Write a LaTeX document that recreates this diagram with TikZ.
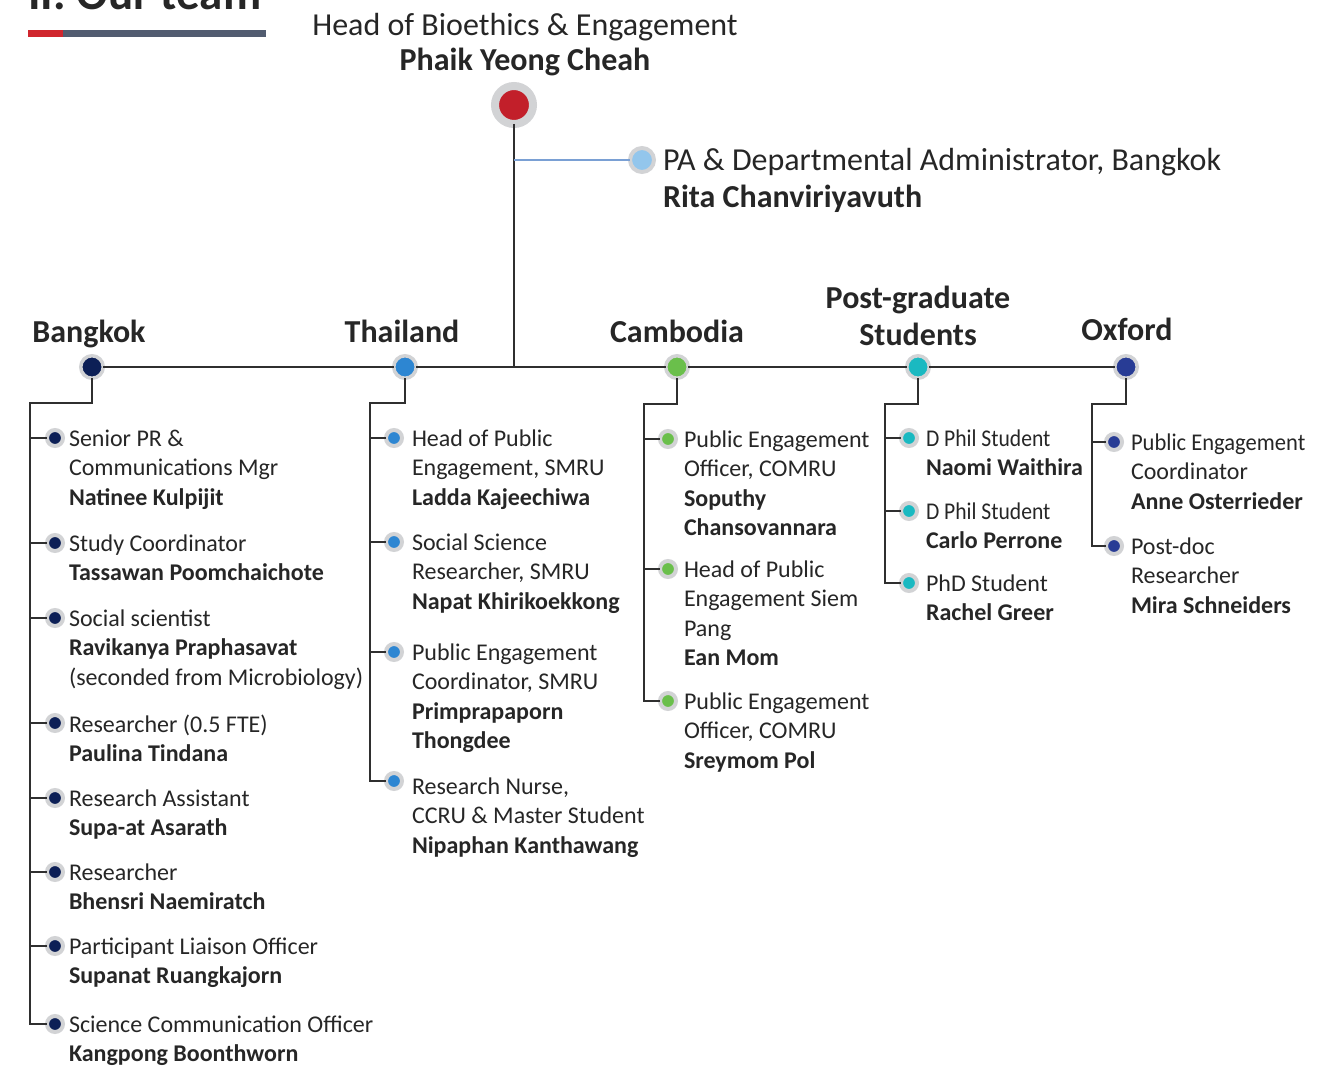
\documentclass[tikz,border=0pt]{standalone}
\usepackage{fontspec}
\usepackage{graphicx}
\setmainfont{Carlito}
\definecolor{ring}{HTML}{D2D3D5}
\definecolor{inkline}{HTML}{2F2F2F}
\definecolor{inktext}{HTML}{262626}
\definecolor{headred}{HTML}{C21F2A}
\definecolor{palight}{HTML}{93C6EC}
\definecolor{palink}{HTML}{7AA0D4}
\definecolor{bkcol}{HTML}{0C1F56}
\definecolor{thcol}{HTML}{2D86D2}
\definecolor{cbcol}{HTML}{6ABF4B}
\definecolor{pgcol}{HTML}{1AB9C1}
\definecolor{oxcol}{HTML}{283C95}
\definecolor{barred}{HTML}{D0262E}
\definecolor{barslate}{HTML}{525C70}
% slightly condensed role line
\newcommand\narrowrole[2]{\scalebox{#1}[1]{#2}}
\begin{document}
\begin{tikzpicture}[x=1pt,y=-1pt,
  every node/.style={inner sep=0pt, outer sep=0pt},
  bigdot/.style={circle, draw=ring, line width=8pt, minimum size=38pt, fill=#1},
  regdot/.style={circle, draw=ring, line width=3.5pt, minimum size=22.5pt, fill=#1},
  padot/.style={circle, draw=ring, line width=4pt, minimum size=24pt, fill=#1},
  idot/.style={circle, draw=ring, line width=4pt, minimum size=16pt, fill=#1},
  conn/.style={draw=inkline, line width=2.2pt},
  topline/.style={text=inktext, font=\fontsize{32}{38}\selectfont},
  topname/.style={text=inktext, font=\fontsize{32}{38}\selectfont\bfseries},
  region/.style={text=inktext, font=\fontsize{32}{37}\selectfont\bfseries, align=center},
  % first-line baseline sits 0.7 x 29.3pt below the node's top edge
  itext/.style={text=inktext, font=\fontsize{24}{29.3}\selectfont, align=left,
                anchor=north west, execute at begin node={\strut}},
]
\path[use as bounding box] (0,0) rectangle (1335,1067);
\clip (0,0) rectangle (1335,1067);

% section title and rule
\node[text=inktext, font=\fontsize{47}{47}\selectfont\bfseries, anchor=base west] (title) at (28,10) {II. Our team};
\fill[barred] (28,30) rectangle (63,37);
\fill[barslate] (63,30) rectangle (266,37);

% head
\node[topline, anchor=base] (headrole) at (525,36) {Head of Bioethics \& Engagement};
\node[topname, anchor=base] (headname) at (525,71) {Phaik Yeong Cheah};
\node[bigdot=headred] (head) at (514,105) {};

% PA
\node[padot=palight] (pa) at (642,160) {};
\node[topline, anchor=base west] (parole) at (663,171) {PA \& Departmental Administrator, Bangkok};
\node[topname, anchor=base west] (paname) at (663,208) {Rita Chanviriyavuth};

% regions
\node[regdot=bkcol] (bk) at (92,367) {};
\node[regdot=thcol] (th) at (405,367) {};
\node[regdot=cbcol] (cb) at (677,367) {};
\node[regdot=pgcol] (pg) at (918,367) {};
\node[regdot=oxcol] (ox) at (1126,367) {};
\node[region, anchor=base] (bkl) at (89,342) {Bangkok};
\node[region, anchor=base] (thl) at (402,342) {Thailand};
\node[region, anchor=base] (cbl) at (677,342) {Cambodia};
\node[region, anchor=base] (pgl) at (918,345) {Post-graduate\\Students};
\node[region, anchor=base] (oxl) at (1127,340) {Oxford};

% trunk
\draw[conn] (head) -- (head |- bk);
\draw[draw=palink, line width=2pt] (head |- pa) -- (pa);
\draw[conn] (bk) -- (th) -- (cb) -- (pg) -- (ox);

% Bangkok
\coordinate (bkT) at (30,403);
\foreach \i/\y in {1/438,2/543,3/618,4/723,5/798,6/872,7/946,8/1024}
  \node[idot=bkcol] (bk\i) at (55,\y) {};
\draw[conn] (bk) |- (bkT) |- (bk8);
\foreach \i in {1,...,7} \draw[conn] (bkT |- bk\i) -- (bk\i);
\node[itext] at (69,430) {Senior PR \&\\Communications Mgr\\\textbf{Natinee Kulpijit}};
\node[itext] at (69,535) {Study Coordinator\\\textbf{Tassawan Poomchaichote}};
\node[itext] at (69,610) {Social scientist\\\textbf{Ravikanya Praphasavat}\\(seconded from Microbiology)};
\node[itext] at (69,715) {Researcher (0.5 FTE)\\\textbf{Paulina Tindana}};
\node[itext] at (69,790) {Research Assistant\\\textbf{Supa-at Asarath}};
\node[itext] at (69,864) {Researcher\\\textbf{Bhensri Naemiratch}};
\node[itext] at (69,938) {Participant Liaison Officer\\\textbf{Supanat Ruangkajorn}};
\node[itext] at (69,1016) {Science Communication Officer\\\textbf{Kangpong Boonthworn}};

% Thailand
\coordinate (thT) at (370,403);
\foreach \i/\y in {1/438,2/542,3/652,4/781}
  \node[idot=thcol] (th\i) at (394,\y) {};
\draw[conn] (th) |- (thT) |- (th4);
\foreach \i in {1,2,3} \draw[conn] (thT |- th\i) -- (th\i);
\node[itext] at (412,430) {Head of Public\\Engagement, SMRU\\\textbf{Ladda Kajeechiwa}};
\node[itext] at (412,534) {Social Science\\Researcher, SMRU\\\textbf{Napat Khirikoekkong}};
\node[itext] at (412,644) {Public Engagement\\Coordinator, SMRU\\\textbf{Primprapaporn}\\\textbf{Thongdee}};
\node[itext] at (412,778) {Research Nurse,\\CCRU \& Master Student\\\textbf{Nipaphan Kanthawang}};

% Cambodia
\coordinate (cbT) at (644,404);
\foreach \i/\y in {1/439,2/569,3/701}
  \node[idot=cbcol] (cb\i) at (668,\y) {};
\draw[conn] (cb) |- (cbT) |- (cb3);
\foreach \i in {1,2} \draw[conn] (cbT |- cb\i) -- (cb\i);
\node[itext] at (684,431) {Public Engagement\\Officer, COMRU\\\textbf{Soputhy}\\\textbf{Chansovannara}};
\node[itext] at (684,561) {Head of Public\\Engagement Siem\\Pang\\\textbf{Ean Mom}};
\node[itext] at (684,693) {Public Engagement\\Officer, COMRU\\\textbf{Sreymom Pol}};

% Post-graduate students
\coordinate (pgT) at (885,404);
\foreach \i/\y in {1/438,2/511,3/583}
  \node[idot=pgcol] (pg\i) at (909,\y) {};
\draw[conn] (pg) |- (pgT) |- (pg3);
\foreach \i in {1,2} \draw[conn] (pgT |- pg\i) -- (pg\i);
\node[itext] at (926,430) {\narrowrole{0.9}{D Phil Student}\\\textbf{Naomi Waithira}};
\node[itext] at (926,503) {\narrowrole{0.9}{D Phil Student}\\\textbf{Carlo Perrone}};
\node[itext] at (926,575) {PhD Student\\\textbf{Rachel Greer}};

% Oxford
\coordinate (oxT) at (1092,404);
\foreach \i/\y in {1/442,2/546}
  \node[idot=oxcol] (ox\i) at (1114,\y) {};
\draw[conn] (ox) |- (oxT) |- (ox2);
\draw[conn] (oxT |- ox1) -- (ox1);
\node[itext] at (1131,434) {\narrowrole{0.94}{Public Engagement}\\Coordinator\\\textbf{Anne Osterrieder}};
\node[itext] at (1131,538) {Post-doc\\Researcher\\\textbf{Mira Schneiders}};
\end{tikzpicture}
\end{document}
